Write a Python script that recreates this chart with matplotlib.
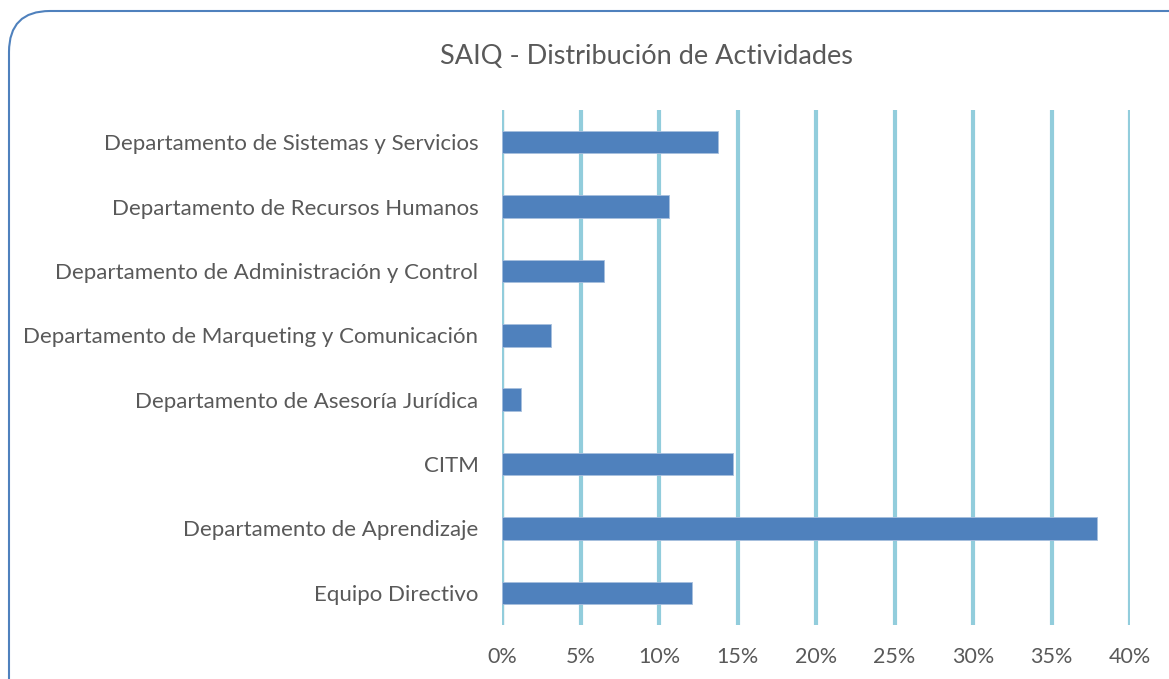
#!/usr/bin/env python
"""SAIQ - Distribución de Actividades, horizontal bar chart."""

import matplotlib

matplotlib.use("Agg")
import matplotlib.pyplot as plt
from matplotlib.patches import FancyBboxPatch
from matplotlib.ticker import FuncFormatter, MultipleLocator

# data, bottom to top as drawn
categories = [
    "Equipo Directivo",
    "Departamento de Aprendizaje",
    "CITM",
    "Departamento de Asesoría Jurídica",
    "Departamento de Marqueting y Comunicación",
    "Departamento de Administración y Control",
    "Departamento de Recursos Humanos",
    "Departamento de Sistemas y Servicios",
]
shares = [0.1208, 0.3792, 0.1473, 0.0121, 0.0314, 0.0650, 0.1061, 0.1375]

TEXT = "#595959"
BAR = "#4F81BD"
GRID = "#92CDDC"

plt.rcParams["font.family"] = ["Lato", "DejaVu Sans"]

fig = plt.figure(figsize=(11.69, 6.79), dpi=100)

# rounded outer frame, running off the right and bottom edges
frame = FancyBboxPatch(
    (9 / 1169, -0.2), 1.2, 1.2 - 11 / 679,
    boxstyle="round,pad=0,rounding_size=0.035",
    transform=fig.transFigure, fill=False, edgecolor=BAR, linewidth=1.5,
    mutation_aspect=1169 / 679,
)
fig.patches.append(frame)

ax = fig.add_axes([502 / 1169, 1 - 625 / 679, 628 / 1169, 515 / 679])
y = range(len(categories))
ax.barh(y, shares, height=0.35, color=BAR, edgecolor="#A7BFDE", linewidth=0.6, zorder=3)

ax.set_xlim(0, 0.40)
ax.set_ylim(-0.5, len(categories) - 0.5)
ax.xaxis.set_major_locator(MultipleLocator(0.05))
ax.xaxis.set_major_formatter(FuncFormatter(lambda v, _: f"{v * 100:.0f}%"))
ax.set_yticks(list(y))
ax.set_yticklabels(categories)

ax.grid(axis="x", color=GRID, linewidth=3, zorder=0)
ax.axvline(0, color="#D9D9D9", linewidth=2.5, zorder=1)
for side in ("top", "right", "bottom", "left"):
    ax.spines[side].set_visible(False)
ax.tick_params(axis="both", length=0, colors=TEXT)
ax.tick_params(axis="x", pad=16, labelsize=15.5)
ax.tick_params(axis="y", pad=17, labelsize=16)

fig.text(646 / 1169, 1 - 56 / 679, "SAIQ - Distribución de Actividades",
         ha="center", va="center", fontsize=19.5, color=TEXT)

fig.savefig("out.png", dpi=100)
plt.close(fig)
